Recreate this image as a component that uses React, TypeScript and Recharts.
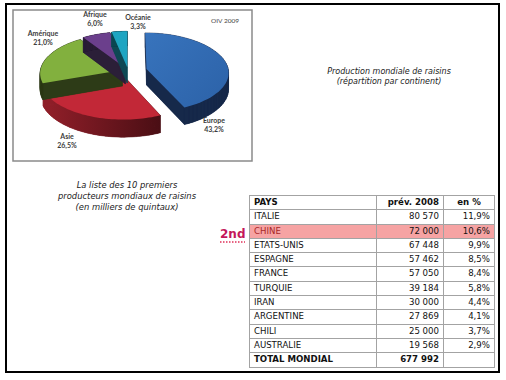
import React from "react";
import { PieChart, Pie } from "recharts";

// répartition par continent (%)
const continents = ["Europe", "Asie", "Amérique", "Afrique", "Océanie"];
const shares = [43.2, 26.5, 21.0, 6.0, 3.3];
const shareLabels = ["43,2%", "26,5%", "21,0%", "6,0%", "3,3%"];

// top 10 producteurs
const countries = ["ITALIE", "CHINE", "ETATS-UNIS", "ESPAGNE", "FRANCE", "TURQUIE", "IRAN", "ARGENTINE", "CHILI", "AUSTRALIE"];
const prod2008 = ["80 570", "72 000", "67 448", "57 462", "57 050", "39 184", "30 000", "27 869", "25 000", "19 568"];
const pct = ["11,9%", "10,6%", "9,9%", "8,5%", "8,4%", "5,8%", "4,4%", "4,1%", "3,7%", "2,9%"];
const totalLabel = "TOTAL MONDIAL";
const totalValue = "677 992";

const pieData = continents.map((name, i) => ({ name, value: shares[i], label: shareLabels[i] }));

const SLICE_STYLE: Record<string, { top: string; side: string; explode: number }> = {
  Europe: { top: "url(#euroTop)", side: "#16294a", explode: 19 },
  Asie: { top: "#c22837", side: "url(#asieSide)", explode: 11 },
  "Amérique": { top: "#82b03e", side: "#2d3b17", explode: 6 },
  Afrique: { top: "#6b3f8c", side: "#2b1f38", explode: 7 },
  "Océanie": { top: "#1ea5c2", side: "#0e4854", explode: 8 },
};

// label anchors (annotation text, not marks)
const LABEL_POS: Record<string, [number, number]> = {
  Europe: [214, 122.5],
  Asie: [67, 139],
  "Amérique": [43, 35.5],
  Afrique: [95, 17],
  "Océanie": [138, 19.5],
};

const RAD = Math.PI / 180;
const K = 0.48; // vertical squash
const P = 0.08; // perspective
const DEPTH = 16;

// project a point of the flat disc (u right, v back) onto the screen
const proj = (cx: number, cy: number, R: number, u: number, v: number) => {
  const s = 1 / (1 + (P * v) / R);
  return { x: cx + u * s, y: cy - K * v * s, s };
};

const toD = (pts: [number, number][]) =>
  "M" + pts.map((p) => p[0].toFixed(2) + "," + p[1].toFixed(2)).join("L") + "Z";

const Slice3D = (props: any) => {
  const { cx, cy, outerRadius: R, startAngle, endAngle, payload } = props;
  const name = payload?.name ?? props.name;
  const st = SLICE_STYLE[name];
  const mid = props.midAngle ?? (startAngle + endAngle) / 2;
  const u0 = st.explode * Math.cos(mid * RAD);
  const v0 = st.explode * Math.sin(mid * RAD);
  const n = 48;
  const disc: [number, number][] = [[u0, v0]];
  for (let i = 0; i <= n; i++) {
    const a = (startAngle + ((endAngle - startAngle) * i) / n) * RAD;
    disc.push([u0 + R * Math.cos(a), v0 + R * Math.sin(a)]);
  }
  const top: [number, number][] = [];
  const bottom: [number, number][] = [];
  disc.forEach(([u, v]) => {
    const p = proj(cx, cy, R, u, v);
    top.push([p.x, p.y]);
    bottom.push([p.x, p.y + DEPTH * p.s]);
  });
  const walls: string[] = [];
  for (let i = 0; i < top.length; i++) {
    const j = (i + 1) % top.length;
    walls.push(toD([top[i], top[j], bottom[j], bottom[i]]));
  }
  return (
    <g>
      <path d={toD(bottom)} fill={st.side} />
      {walls.map((d, i) => (
        <path key={i} d={d} fill={st.side} stroke={st.side} strokeWidth={0.5} />
      ))}
      <path d={toD(top)} fill={st.top} />
    </g>
  );
};

const ROW_H = 14.3;
const COLS = [127, 67, 51];

const cell = (extra: React.CSSProperties = {}): React.CSSProperties => ({
  border: "1px solid #a3a3a3",
  height: ROW_H - 1,
  padding: "0 4px",
  lineHeight: ROW_H - 1 + "px",
  whiteSpace: "nowrap",
  ...extra,
});

export default function App() {
  const labelFont = { fontFamily: "Lato, 'Open Sans', sans-serif", fontSize: 7, fontWeight: 700, fill: "#3c3c3c" };
  const titleFont = { fontFamily: "'DejaVu Sans', sans-serif", fontStyle: "italic", fill: "#222" };
  return (
    <div style={{ position: "fixed", left: 0, top: 0, width: 506, height: 380, background: "#fff" }}>
      <svg width={506} height={380} style={{ position: "absolute", left: 0, top: 0 }}>
        <rect x={6} y={4} width={493} height={368} fill="none" stroke="#000" strokeWidth={2} />
        <rect x={13} y={10} width={239} height={151} fill="#fff" stroke="#8a8a8a" strokeWidth={1.5} />
      </svg>

      <div style={{ position: "absolute", left: 0, top: 0 }}>
        <PieChart width={506} height={380} margin={{ top: 0, right: 0, bottom: 0, left: 0 }}>
          <defs>
            <linearGradient id="asieSide" gradientUnits="userSpaceOnUse" x1={50} y1={0} x2={190} y2={0}>
              <stop offset="0%" stopColor="#8e1e28" />
              <stop offset="100%" stopColor="#380a0f" />
            </linearGradient>
            <linearGradient id="euroTop" gradientUnits="userSpaceOnUse" x1={145} y1={30} x2={225} y2={110}>
              <stop offset="0%" stopColor="#3874bd" />
              <stop offset="100%" stopColor="#2c62a8" />
            </linearGradient>
          </defs>
          <Pie
            data={pieData}
            dataKey="value"
            nameKey="name"
            cx={128}
            cy={71}
            outerRadius={82}
            startAngle={90}
            endAngle={-270}
            stroke="none"
            shape={Slice3D}
            isAnimationActive={false}
          />
        </PieChart>
      </div>

      <svg width={506} height={380} style={{ position: "absolute", left: 0, top: 0, pointerEvents: "none" }}>
        {pieData.map((d) => {
          const [x, y] = LABEL_POS[d.name];
          return (
            <g key={d.name} style={labelFont as any}>
              <text x={x} y={y} textAnchor="middle">{d.name}</text>
              <text x={x} y={y + 9} textAnchor="middle">{d.label}</text>
            </g>
          );
        })}
        <text x={225} y={22.5} textAnchor="middle" style={{ fontFamily: "Lato, sans-serif", fontSize: 6.5, fill: "#444" }}>
          OIV 2009
        </text>
        <g style={{ ...titleFont, fontSize: 8 } as any}>
          <text x={389} y={74} textAnchor="middle">Production mondiale de raisins</text>
          <text x={389} y={84} textAnchor="middle">(répartition par continent)</text>
        </g>
        <g style={{ ...titleFont, fontSize: 8.4 } as any}>
          <text x={127} y={188} textAnchor="middle">La liste des 10 premiers</text>
          <text x={127} y={199} textAnchor="middle">producteurs mondiaux de raisins</text>
          <text x={127} y={210} textAnchor="middle">(en milliers de quintaux)</text>
        </g>
        <text x={220} y={238} style={{ fontFamily: "'DejaVu Sans', sans-serif", fontWeight: 700, fontSize: 12, fill: "#c4175a" }}>
          2nd
        </text>
        <line x1={220} y1={242} x2={245} y2={242} stroke="#e0305a" strokeWidth={1.5} strokeDasharray="1.5 1.5" />
      </svg>

      <table
        style={{
          position: "absolute",
          left: 249,
          top: 195,
          borderCollapse: "collapse",
          fontFamily: "'DejaVu Sans', Verdana, sans-serif",
          fontSize: 8.6,
          color: "#111",
          tableLayout: "fixed",
          border: "1px solid #7a7a7a",
        }}
      >
        <colgroup>
          {COLS.map((w, i) => (
            <col key={i} style={{ width: w }} />
          ))}
        </colgroup>
        <tbody>
          <tr style={{ fontWeight: 700 }}>
            <td style={cell()}>PAYS</td>
            <td style={cell({ textAlign: "right" })}>prév. 2008</td>
            <td style={cell({ textAlign: "center" })}>en %</td>
          </tr>
          {countries.map((c, i) => {
            const hi = c === "CHINE";
            const bg = hi ? { background: "#f6a3a3" } : {};
            return (
              <tr key={c}>
                <td style={cell({ ...bg, color: hi ? "#a82828" : "#111" })}>{c}</td>
                <td style={cell({ ...bg, textAlign: "right" })}>{prod2008[i]}</td>
                <td style={cell({ ...bg, textAlign: "right" })}>{pct[i]}</td>
              </tr>
            );
          })}
          <tr style={{ fontWeight: 700 }}>
            <td style={cell()}>{totalLabel}</td>
            <td style={cell({ textAlign: "right" })}>{totalValue}</td>
            <td style={cell()}></td>
          </tr>
        </tbody>
      </table>
    </div>
  );
}
